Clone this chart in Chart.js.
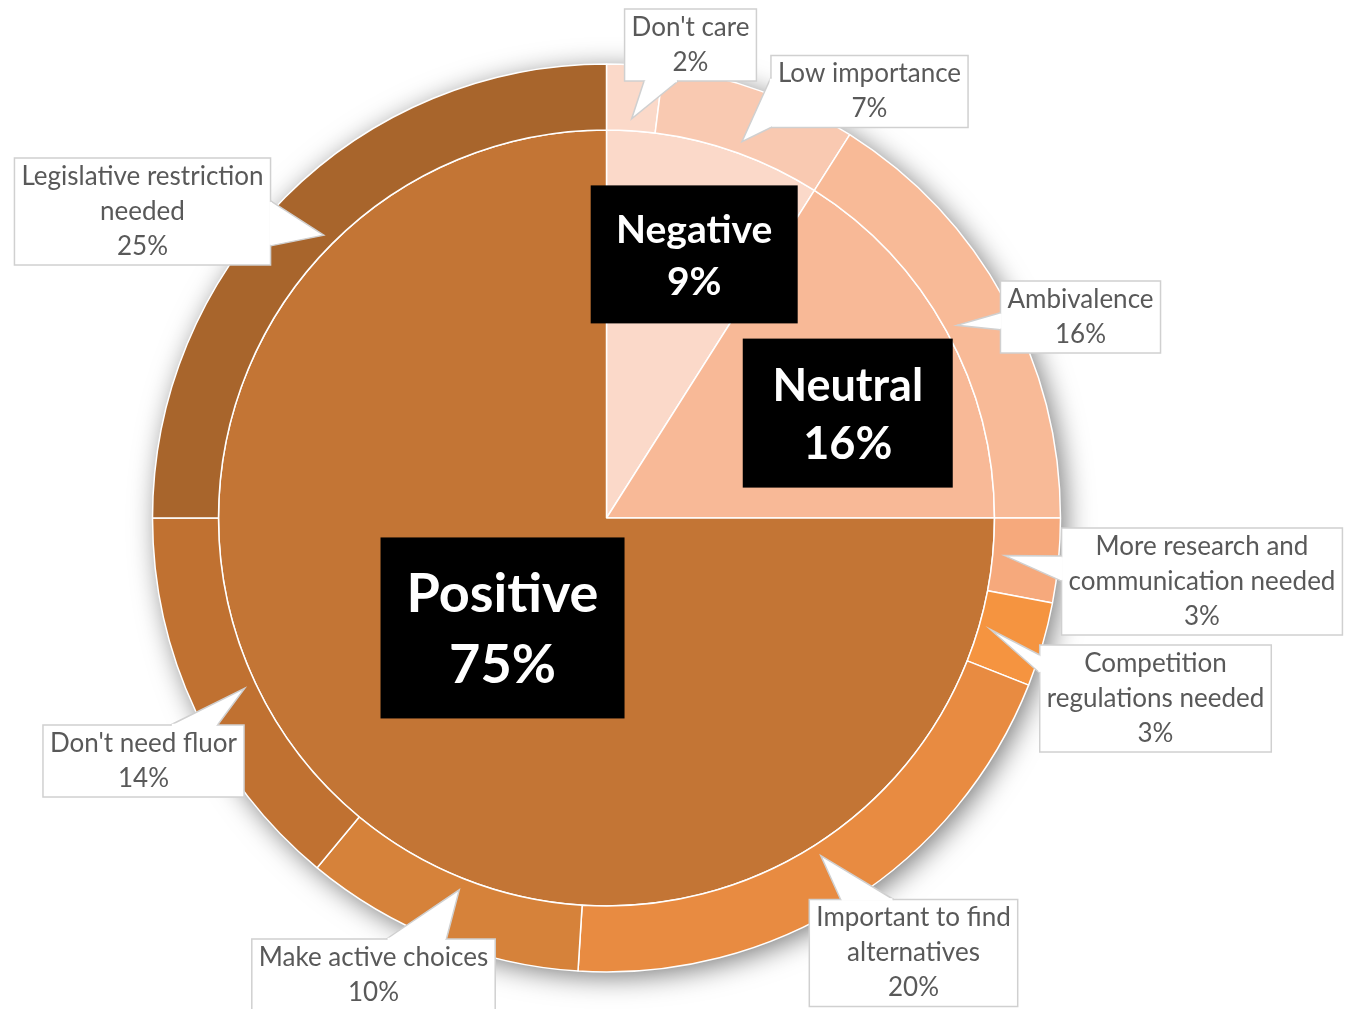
<!DOCTYPE html>
<html>
<head>
<meta charset="utf-8">
<script src="https://cdn.jsdelivr.net/npm/chart.js@4/dist/chart.umd.min.js"></script>
<style>
html,body{margin:0;padding:0;background:#fff;}
canvas{display:block;}
</style>
</head>
<body>
<canvas id="c" width="1346" height="1009"></canvas>
<script>
// ---- data ----
const innerLabels = ['Negative', 'Neutral', 'Positive'];
const innerValues = [9, 16, 75];
const outerLabels = [
  ["Don't care"],
  ['Low importance'],
  ['Ambivalence'],
  ['More research and', 'communication needed'],
  ['Competition', 'regulations needed'],
  ['Important to find', 'alternatives'],
  ['Make active choices'],
  ["Don't need fluor"],
  ['Legislative restriction', 'needed']
];
const outerValues = [2, 7, 16, 3, 3, 20, 10, 14, 25];

// ---- styles / layout ----
const innerColors = ['#FBD9C9', '#F8B997', '#C37535'];
const outerColors = ['#FBD9C9', '#F9C9B1', '#F8BA97', '#F6A97C', '#F59440', '#E88B41', '#D6823A', '#C07131', '#A8652C'];
// r: fraction of radius, da: angle nudge (deg), box size, font size, line spacing
const innerLabelStyle = [
  {r: 0.716, da: 2.2, w: 207, h: 138, font: 39, lh: 52},
  {r: 0.678, da: 5.3, w: 210, h: 149, font: 45, lh: 58},
  {r: 0.39, da: -1.6, w: 244, h: 181, font: 54, lh: 71}
];
// box centre offsets from pie centre, and pointer base width
const outerLabelStyle = [
  {dx: 84, dy: -473, nw: 34},
  {dx: 263, dy: -426.5, nw: 50},
  {dx: 474, dy: -201, nw: 17},
  {dx: 595.5, dy: 63.5, nw: 25},
  {dx: 549, dy: 180.5, nw: 18},
  {dx: 307, dy: 435, nw: 53},
  {dx: -233, dy: 457, nw: 60},
  {dx: -463, dy: 243, nw: 47},
  {dx: -464, dy: -306.5, nw: 45}
];
const calloutFont = '26px Lato, "Open Sans", sans-serif';
const calloutColor = '#595959';
const calloutBorder = '#D0D0D0';
const lineH = 35;

const shadowPlugin = {
  id: 'ringShadow',
  beforeDatasetsDraw(chart) {
    const a = chart.getDatasetMeta(0).data[0];
    const ctx = chart.ctx;
    ctx.save();
    ctx.shadowColor = 'rgba(0,0,0,0.55)';
    ctx.shadowBlur = 28;
    ctx.shadowOffsetX = 5;
    ctx.shadowOffsetY = 5;
    ctx.beginPath();
    ctx.arc(a.x, a.y, a.outerRadius - 1, 0, Math.PI * 2);
    ctx.fillStyle = '#fff';
    ctx.fill();
    ctx.restore();
  }
};

function drawCallout(ctx, box, tip, nw) {
  const {l, t, r, b} = box;
  const cx = (l + r) / 2, cy = (t + b) / 2;
  let side;
  const ex = tip.x < l ? l - tip.x : (tip.x > r ? tip.x - r : 0);
  const ey = tip.y < t ? t - tip.y : (tip.y > b ? tip.y - b : 0);
  if (ex >= ey) side = tip.x < l ? 'left' : 'right';
  else side = tip.y < t ? 'top' : 'bottom';
  let p1, p2;
  const clamp = (v, a, z) => Math.max(a, Math.min(z, v));
  if (side === 'left' || side === 'right') {
    const xx = side === 'left' ? l : r;
    const c = clamp((tip.y + cy) / 2, t + nw / 2, b - nw / 2);
    p1 = {x: xx, y: c - nw / 2}; p2 = {x: xx, y: c + nw / 2};
  } else {
    const yy = side === 'top' ? t : b;
    const c = clamp((tip.x + cx) / 2, l + nw / 2, r - nw / 2);
    p1 = {x: c - nw / 2, y: yy}; p2 = {x: c + nw / 2, y: yy};
  }
  ctx.save();
  ctx.lineWidth = 1.5;
  ctx.strokeStyle = calloutBorder;
  ctx.fillStyle = '#fff';
  ctx.fillRect(l, t, r - l, b - t);
  ctx.strokeRect(l, t, r - l, b - t);
  ctx.beginPath();
  ctx.moveTo(p1.x, p1.y);
  ctx.lineTo(tip.x, tip.y);
  ctx.lineTo(p2.x, p2.y);
  ctx.closePath();
  ctx.fill();
  ctx.beginPath();
  ctx.moveTo(p1.x, p1.y);
  ctx.lineTo(tip.x, tip.y);
  ctx.lineTo(p2.x, p2.y);
  ctx.stroke();
  // erase box border under the pointer base
  ctx.strokeStyle = '#fff';
  ctx.lineWidth = 2.5;
  ctx.beginPath();
  const ux = p2.x - p1.x, uy = p2.y - p1.y, len = Math.hypot(ux, uy) || 1;
  ctx.moveTo(p1.x + ux / len * 1.2, p1.y + uy / len * 1.2);
  ctx.lineTo(p2.x - ux / len * 1.2, p2.y - uy / len * 1.2);
  ctx.stroke();
  ctx.restore();
}

const labelPlugin = {
  id: 'sunLabels',
  afterDatasetsDraw(chart) {
    const ctx = chart.ctx;
    // inner labels (black boxes)
    const inner = chart.getDatasetMeta(1).data;
    inner.forEach((arc, i) => {
      const st = innerLabelStyle[i];
      const mid = (arc.startAngle + arc.endAngle) / 2 + st.da * Math.PI / 180;
      const rr = arc.outerRadius * st.r;
      const x = arc.x + Math.cos(mid) * rr;
      const y = arc.y + Math.sin(mid) * rr;
      ctx.save();
      ctx.fillStyle = '#000';
      ctx.fillRect(x - st.w / 2, y - st.h / 2, st.w, st.h);
      ctx.fillStyle = '#fff';
      ctx.font = 'bold ' + st.font + 'px Lato, "Open Sans", sans-serif';
      ctx.textAlign = 'center';
      ctx.textBaseline = 'middle';
      const lines = [innerLabels[i], innerValues[i] + '%'];
      lines.forEach((s, k) => {
        ctx.fillText(s, x, y + 2 + (k - (lines.length - 1) / 2) * st.lh);
      });
      ctx.restore();
    });
    // outer callouts
    const outer = chart.getDatasetMeta(0).data;
    outer.forEach((arc, i) => {
      const st = outerLabelStyle[i];
      const mid = (arc.startAngle + arc.endAngle) / 2;
      const tr = arc.innerRadius + (arc.outerRadius - arc.innerRadius) * 0.18;
      const tip = {x: arc.x + Math.cos(mid) * tr, y: arc.y + Math.sin(mid) * tr};
      const lines = outerLabels[i].concat([outerValues[i] + '%']);
      ctx.save();
      ctx.font = calloutFont;
      let tw = 0;
      lines.forEach(s => { tw = Math.max(tw, ctx.measureText(s).width); });
      const bw = tw + 14, bh = lines.length * lineH + 2;
      const cx = arc.x + st.dx, cy = arc.y + st.dy;
      const box = {l: cx - bw / 2, t: cy - bh / 2, r: cx + bw / 2, b: cy + bh / 2};
      drawCallout(ctx, box, tip, st.nw);
      ctx.fillStyle = calloutColor;
      ctx.textAlign = 'center';
      ctx.textBaseline = 'middle';
      lines.forEach((s, k) => {
        ctx.fillText(s, cx, box.t + 1 + lineH / 2 + k * lineH);
      });
      ctx.restore();
    });
  }
};

new Chart(document.getElementById('c'), {
  type: 'pie',
  data: {
    labels: outerLabels.map(l => l.join(' ')),
    datasets: [
      {data: outerValues, backgroundColor: outerColors, borderColor: '#fff', borderWidth: 1.5, weight: 66, hoverOffset: 0},
      {data: innerValues, backgroundColor: innerColors, borderColor: '#fff', borderWidth: 1.5, weight: 388, hoverOffset: 0}
    ]
  },
  options: {
    responsive: false,
    animation: false,
    events: [],
    radius: 454,
    layout: {padding: {left: 0, right: 133, top: 64, bottom: 37}},
    plugins: {legend: {display: false}, tooltip: {enabled: false}}
  },
  plugins: [shadowPlugin, labelPlugin]
});
</script>
</body>
</html>
